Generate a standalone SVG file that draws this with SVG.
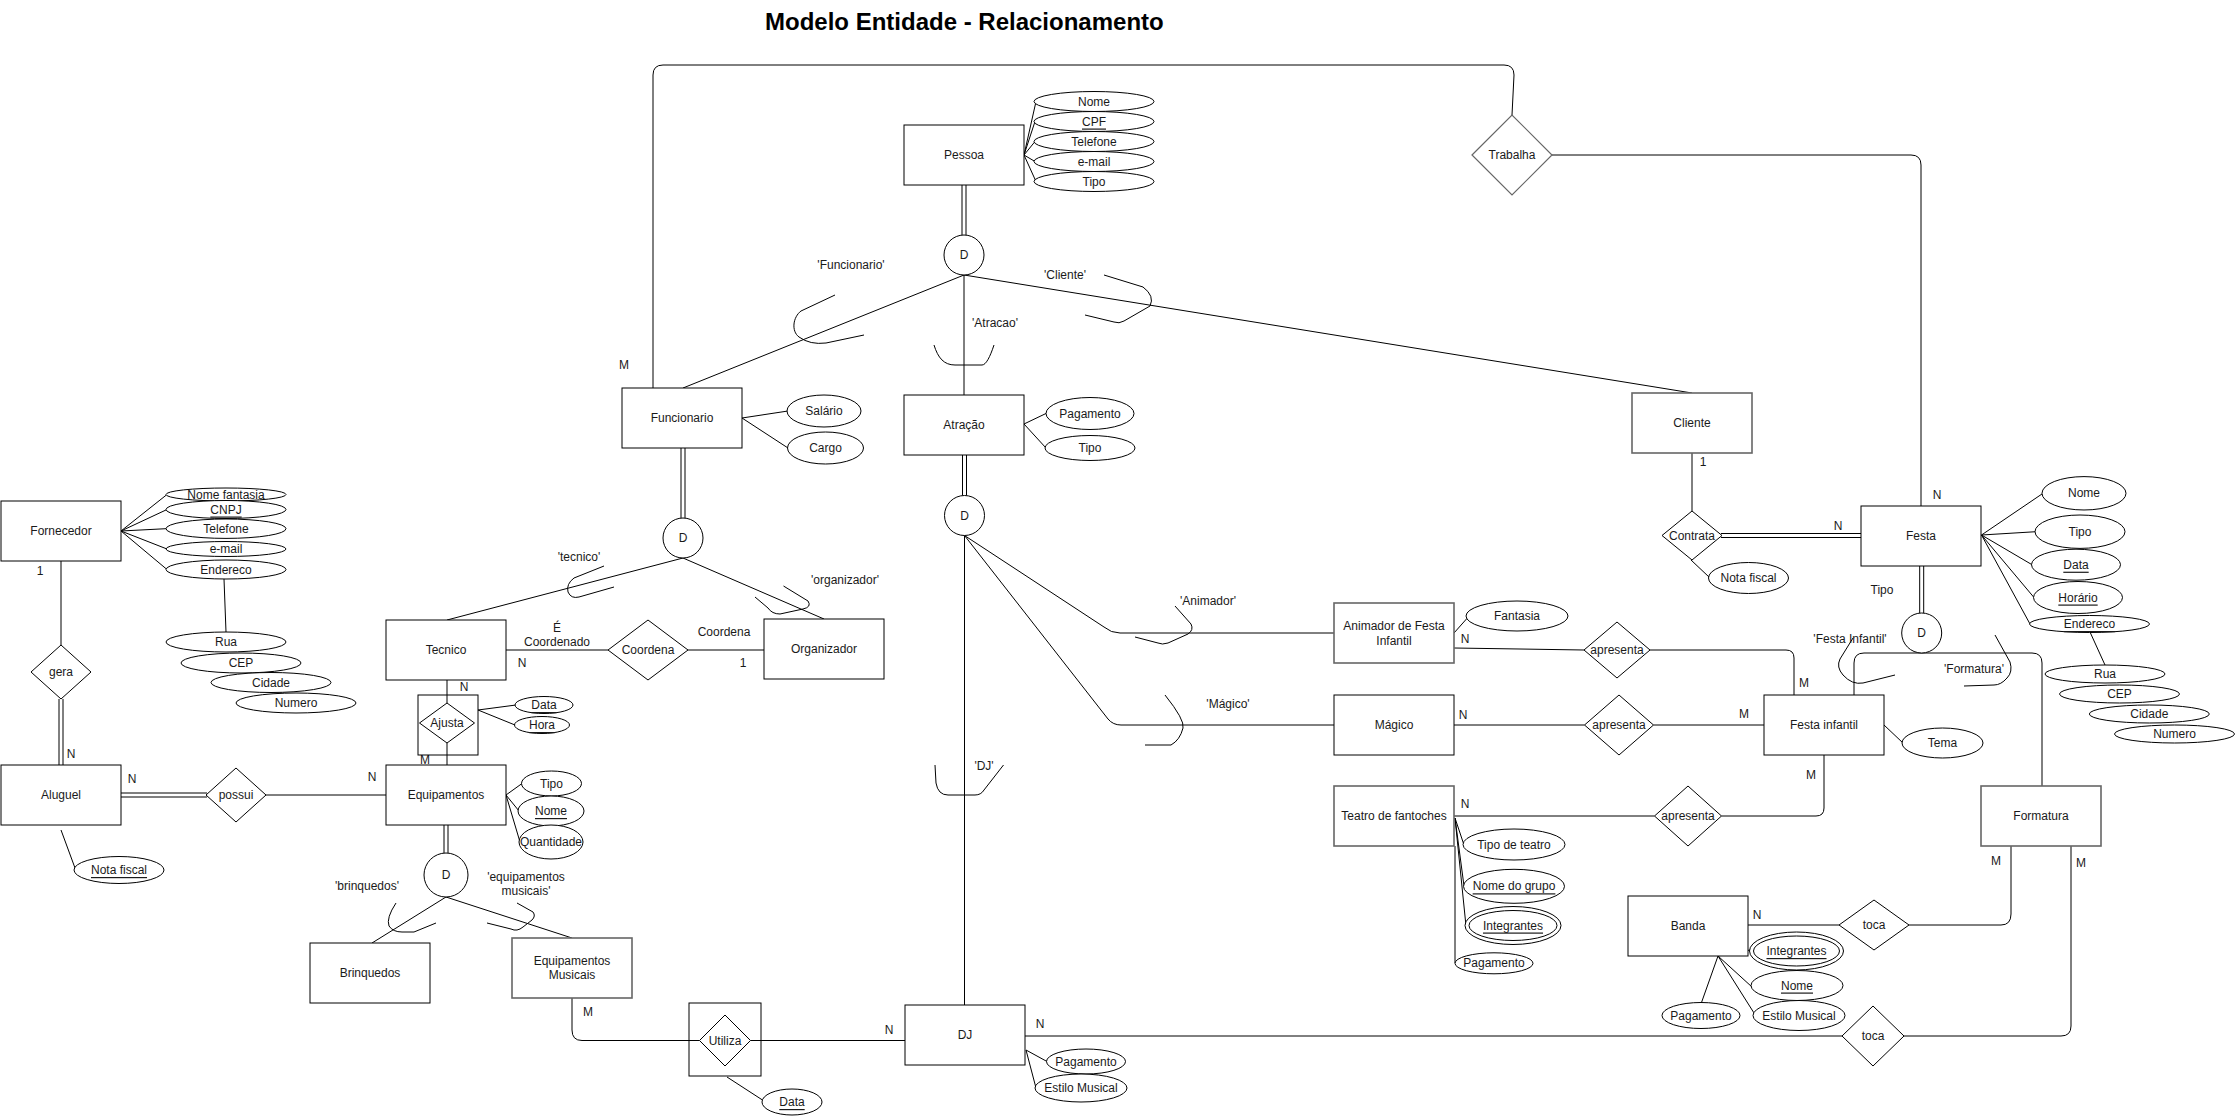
<svg xmlns="http://www.w3.org/2000/svg" width="2235" height="1116" viewBox="0 0 2235 1116">
<style>
.en{fill:#fff;stroke:#000;stroke-width:1}
.eg{fill:#fff;stroke:#666;stroke-width:1.6}
.as{fill:none;stroke:#000;stroke-width:1}
.at{fill:#fff;stroke:#000;stroke-width:1}
.rl{fill:#fff;stroke:#000;stroke-width:1}
.rg{fill:#fff;stroke:#666;stroke-width:1.2}
.cn{fill:none;stroke:#000;stroke-width:1}
.br{fill:none;stroke:#000;stroke-width:1}
.t{font-family:"Liberation Sans",Arial,Helvetica,sans-serif;font-size:12px;fill:#1a1a1a;text-anchor:middle;dominant-baseline:central}
.u{text-decoration:underline}
.title{font-family:"Liberation Sans",Arial,Helvetica,sans-serif;font-size:24px;font-weight:bold;fill:#000}
</style>
<rect width="2235" height="1116" fill="#fff"/>
<text class="title" x="765" y="30">Modelo Entidade - Relacionamento</text>

<!-- connectors -->
<g id="connectors">
  <!-- Pessoa specialisation -->
  <line class="cn" x1="962" y1="185" x2="962" y2="235"/><line class="cn" x1="966" y1="185" x2="966" y2="235"/>
  <line class="cn" x1="964" y1="275" x2="683" y2="388"/>
  <line class="cn" x1="964" y1="275" x2="964" y2="395"/>
  <line class="cn" x1="964" y1="275" x2="1692" y2="393"/>
  <path class="br" d="M835,295 L801,311 C793,317 791,331 799,337 Q810,345 826,343 L864,335"/>
  <path class="br" d="M1104,275 L1143,287 Q1155,296 1150,306 L1124,321 Q1119,324 1114,322 L1085,315"/>
  <path class="br" d="M934,345 C938,358 944,365 955,365 L982,365 C986,365 990,357 994,345"/>
  <!-- Pessoa attributes -->
  <line class="cn" x1="1024" y1="155" x2="1036" y2="101.5"/>
  <line class="cn" x1="1024" y1="155" x2="1035" y2="121.5"/>
  <line class="cn" x1="1024" y1="155" x2="1035" y2="141.5"/>
  <line class="cn" x1="1024" y1="155" x2="1035" y2="161.5"/>
  <line class="cn" x1="1024" y1="155" x2="1036" y2="181.5"/>
  <!-- Funcionario / Atracao attributes -->
  <line class="cn" x1="742" y1="418" x2="788" y2="411"/>
  <line class="cn" x1="742" y1="418" x2="788" y2="448"/>
  <line class="cn" x1="1024" y1="424" x2="1047" y2="413"/>
  <line class="cn" x1="1024" y1="424" x2="1046" y2="448"/>
  <!-- Trabalha -->
  <path class="cn" d="M653,388 V75 Q653,65 663,65 H1504 Q1514,65 1514,75 L1512,115"/>
  <path class="cn" d="M1552,155 H1911 Q1921,155 1921,165 V506"/>
  <!-- Funcionario specialisation -->
  <line class="cn" x1="681" y1="448" x2="681" y2="518"/><line class="cn" x1="685" y1="448" x2="685" y2="518"/>
  <line class="cn" x1="683" y1="558" x2="447" y2="620"/>
  <line class="cn" x1="683" y1="558" x2="824" y2="619"/>
  <path class="br" d="M604,566 L574,578 Q566,584 568,592 Q571,599 579,597 L614,587"/>
  <path class="br" d="M783.5,586 L808,601 Q812,607 803,609 L780,614 Q772,614 768,608 L755,597"/>
  <!-- Coordena -->
  <line class="cn" x1="506" y1="650" x2="608" y2="650"/>
  <line class="cn" x1="688" y1="650" x2="764" y2="650"/>
  <!-- Ajusta -->
  <line class="cn" x1="447" y1="680" x2="447" y2="703"/>
  <line class="cn" x1="447" y1="743" x2="447" y2="765"/>
  <line class="cn" x1="478" y1="710" x2="516" y2="705"/>
  <line class="cn" x1="478" y1="710" x2="515" y2="725"/>
  <!-- Equipamentos attributes -->
  <line class="cn" x1="506" y1="795" x2="522" y2="783.5"/>
  <line class="cn" x1="506" y1="795" x2="519" y2="811"/>
  <line class="cn" x1="506" y1="795" x2="520" y2="842"/>
  <!-- Fornecedor -->
  <line class="cn" x1="121" y1="531" x2="167" y2="494.5"/>
  <line class="cn" x1="121" y1="531" x2="167" y2="509.5"/>
  <line class="cn" x1="121" y1="531" x2="166" y2="528.7"/>
  <line class="cn" x1="121" y1="531" x2="167" y2="549"/>
  <line class="cn" x1="121" y1="531" x2="167" y2="569.5"/>
  <line class="cn" x1="224" y1="579" x2="226" y2="632"/>
  <line class="cn" x1="61" y1="561" x2="61" y2="645"/>
  <line class="cn" x1="59" y1="699" x2="59" y2="765"/><line class="cn" x1="63" y1="699" x2="63" y2="765"/>
  <!-- Aluguel -->
  <line class="cn" x1="121" y1="793" x2="207" y2="793"/><line class="cn" x1="121" y1="797" x2="207" y2="797"/>
  <line class="cn" x1="266" y1="795" x2="386" y2="795"/>
  <line class="cn" x1="61" y1="830" x2="75" y2="868"/>
  <!-- Equipamentos specialisation -->
  <line class="cn" x1="444" y1="825" x2="444" y2="853"/><line class="cn" x1="448" y1="825" x2="448" y2="853"/>
  <line class="cn" x1="446" y1="897" x2="372" y2="943"/>
  <line class="cn" x1="446" y1="897" x2="572" y2="938"/>
  <path class="br" d="M396,903 Q386,918 389,926 Q393,932 402,932 L414,932 L436,923"/>
  <path class="br" d="M517,903 L533,912 Q536,916 532,920 L523,927 Q517,932 511,929 L487,923"/>
  <!-- Utiliza -->
  <path class="cn" d="M572,998 V1030 Q572,1040.5 582,1040.5 H699.5"/>
  <line class="cn" x1="750.5" y1="1040.5" x2="905" y2="1040.5"/>
  <line class="cn" x1="727" y1="1077" x2="764" y2="1101"/>
  <!-- Atracao specialisation -->
  <line class="cn" x1="962.5" y1="455" x2="962.5" y2="495.5"/><line class="cn" x1="966.5" y1="455" x2="966.5" y2="495.5"/>
  <line class="cn" x1="964.5" y1="535.5" x2="964.5" y2="1005"/>
  <path class="cn" d="M964.5,535.5 L1104,627 Q1111,633 1120,633 H1334"/>
  <path class="cn" d="M964.5,535.5 L1108,719 Q1113,725 1121,725 H1334"/>
  <path class="br" d="M1175,606 L1191,624 Q1194,630 1188,634 L1168,643 Q1162,645 1158,643 L1135,637"/>
  <path class="br" d="M1165,695 Q1185,720 1183,728 Q1180,740 1171,745 L1145,745"/>
  <path class="br" d="M935,765 L936,783 Q938,795 948,795 L975,795 Q981,795 984,790 L1003.5,765"/>
  <!-- DJ -->
  <line class="cn" x1="1026" y1="1050" x2="1047" y2="1061.5"/>
  <line class="cn" x1="1026" y1="1050" x2="1036" y2="1088"/>
  <line class="cn" x1="1025" y1="1036" x2="1842" y2="1036"/>
  <!-- Animador / Magico / Teatro -->
  <line class="cn" x1="1454" y1="633" x2="1470" y2="615"/>
  <line class="cn" x1="1454" y1="648" x2="1584" y2="650"/>
  <path class="cn" d="M1650,650 H1786 Q1794,650 1794,658 V695"/>
  <line class="cn" x1="1454" y1="725" x2="1584.5" y2="725"/>
  <line class="cn" x1="1653.5" y1="725" x2="1764" y2="725"/>
  <line class="cn" x1="1884" y1="725" x2="1903" y2="743"/>
  <line class="cn" x1="1454" y1="816" x2="1654.5" y2="816"/>
  <path class="cn" d="M1721.5,816 H1816 Q1824,816 1824,808 V755"/>
  <line class="cn" x1="1455" y1="818" x2="1464" y2="845"/>
  <line class="cn" x1="1455" y1="818" x2="1464" y2="886"/>
  <line class="cn" x1="1455" y1="818" x2="1466" y2="926"/>
  <line class="cn" x1="1455" y1="846" x2="1455" y2="963"/>
  <!-- Cliente / Festa -->
  <line class="cn" x1="1692" y1="453" x2="1692" y2="511"/>
  <line class="cn" x1="1721" y1="533.5" x2="1861" y2="533.5"/><line class="cn" x1="1721" y1="537.5" x2="1861" y2="537.5"/>
  <line class="cn" x1="1691" y1="560" x2="1709" y2="577"/>
  <line class="cn" x1="1981.5" y1="535" x2="2043" y2="493.3"/>
  <line class="cn" x1="1981.5" y1="535" x2="2036" y2="531.7"/>
  <line class="cn" x1="1981.5" y1="535" x2="2032" y2="564.7"/>
  <line class="cn" x1="1981.5" y1="535" x2="2034" y2="597.5"/>
  <line class="cn" x1="1981.5" y1="535" x2="2030" y2="624"/>
  <line class="cn" x1="2090" y1="632" x2="2105" y2="665"/>
  <!-- Festa specialisation -->
  <line class="cn" x1="1919.7" y1="566" x2="1919.7" y2="613"/><line class="cn" x1="1923.7" y1="566" x2="1923.7" y2="613"/>
  <path class="cn" d="M1854,695 V663 Q1854,653 1864,653 H2032 Q2042,653 2042,663 V786"/>
  <path class="br" d="M1853,638 L1840,659 Q1836,667 1843,675 Q1852,685 1863,683 L1895,675"/>
  <path class="br" d="M1995,635 L2010,662 Q2013,672 2007,678 Q2001,685 1994,685 L1964,686"/>
  <!-- Formatura / Banda -->
  <path class="cn" d="M2011,846 V914 Q2011,925 2001,925 H1909"/>
  <path class="cn" d="M2071,846 V1026 Q2071,1036 2061,1036 H1904"/>
  <line class="cn" x1="1748" y1="925" x2="1839" y2="925"/>
  <line class="cn" x1="1718" y1="956" x2="1750" y2="950"/>
  <line class="cn" x1="1718" y1="956" x2="1752" y2="987"/>
  <line class="cn" x1="1718" y1="956" x2="1754" y2="1013"/>
  <line class="cn" x1="1718" y1="956" x2="1701.5" y2="1002.5"/>
</g>

<!-- cardinality and role labels -->
<g id="labels" class="t">
  <text class="t" x="851" y="265">'Funcionario'</text>
  <text class="t" x="1065" y="275">'Cliente'</text>
  <text class="t" x="995" y="323">'Atracao'</text>
  <text class="t" x="624" y="365">M</text>
  <text class="t" x="579" y="557">'tecnico'</text>
  <text class="t" x="845" y="580">'organizador'</text>
  <text class="t" x="557" y="628">É</text>
  <text class="t" x="557" y="642">Coordenado</text>
  <text class="t" x="522" y="663">N</text>
  <text class="t" x="724" y="632">Coordena</text>
  <text class="t" x="743" y="663">1</text>
  <text class="t" x="464" y="687">N</text>
  <text class="t" x="425" y="760">M</text>
  <text class="t" x="40" y="571">1</text>
  <text class="t" x="71" y="754">N</text>
  <text class="t" x="132" y="779">N</text>
  <text class="t" x="372" y="777">N</text>
  <text class="t" x="367" y="886">'brinquedos'</text>
  <text class="t" x="526" y="877">'equipamentos</text>
  <text class="t" x="526" y="891">musicais'</text>
  <text class="t" x="588" y="1012">M</text>
  <text class="t" x="889" y="1030">N</text>
  <text class="t" x="1040" y="1024">N</text>
  <text class="t" x="1208" y="601">'Animador'</text>
  <text class="t" x="1228" y="704">'Mágico'</text>
  <text class="t" x="984" y="766">'DJ'</text>
  <text class="t" x="1465" y="639">N</text>
  <text class="t" x="1463" y="715">N</text>
  <text class="t" x="1465" y="804">N</text>
  <text class="t" x="1804" y="683">M</text>
  <text class="t" x="1744" y="714">M</text>
  <text class="t" x="1811" y="775">M</text>
  <text class="t" x="1703" y="462">1</text>
  <text class="t" x="1838" y="526">N</text>
  <text class="t" x="1937" y="495">N</text>
  <text class="t" x="1882" y="590">Tipo</text>
  <text class="t" x="1850" y="639">'Festa Infantil'</text>
  <text class="t" x="1974" y="669">'Formatura'</text>
  <text class="t" x="1996" y="861">M</text>
  <text class="t" x="2081" y="863">M</text>
  <text class="t" x="1757" y="915">N</text>
</g>

<!-- Pessoa -->
<g id="pessoa">
  <rect class="en" x="904" y="125" width="120" height="60"/>
  <text class="t" x="964" y="155">Pessoa</text>
</g>
<g id="pessoa-attrs">
  <ellipse class="at" cx="1094" cy="101.5" rx="60" ry="10"/><text class="t" x="1094" y="101.5">Nome</text>
  <ellipse class="at" cx="1094" cy="121.5" rx="60" ry="10"/><text class="t u" x="1094" y="121.5">CPF</text>
  <ellipse class="at" cx="1094" cy="141.5" rx="60" ry="10"/><text class="t" x="1094" y="141.5">Telefone</text>
  <ellipse class="at" cx="1094" cy="161.5" rx="60" ry="10"/><text class="t" x="1094" y="161.5">e-mail</text>
  <ellipse class="at" cx="1094" cy="181.5" rx="60" ry="10"/><text class="t" x="1094" y="181.5">Tipo</text>
</g>
<g id="d-pessoa">
  <circle class="en" cx="964" cy="255" r="20"/><text class="t" x="964" y="255">D</text>
</g>

<!-- Funcionario -->
<g id="funcionario">
  <rect class="en" x="622" y="388" width="120" height="60"/>
  <text class="t" x="682" y="418">Funcionario</text>
  <ellipse class="at" cx="824" cy="411" rx="37" ry="16"/><text class="t" x="824" y="411">Salário</text>
  <ellipse class="at" cx="825.5" cy="448" rx="38" ry="16"/><text class="t" x="825.5" y="448">Cargo</text>
</g>
<g id="d-funcionario">
  <circle class="en" cx="683" cy="538" r="20"/><text class="t" x="683" y="538">D</text>
</g>

<!-- Atracao -->
<g id="atracao">
  <rect class="en" x="904" y="395" width="120" height="60"/>
  <text class="t" x="964" y="425">Atração</text>
  <ellipse class="at" cx="1090" cy="413.5" rx="44" ry="16"/><text class="t" x="1090" y="413.5">Pagamento</text>
  <ellipse class="at" cx="1090" cy="448" rx="45" ry="12.5"/><text class="t" x="1090" y="448">Tipo</text>
</g>
<g id="d-atracao">
  <circle class="en" cx="964.5" cy="515.5" r="20"/><text class="t" x="964.5" y="515.5">D</text>
</g>

<!-- Cliente -->
<g id="cliente">
  <rect class="eg" x="1632" y="393" width="120" height="60"/>
  <text class="t" x="1692" y="423">Cliente</text>
</g>

<!-- Trabalha -->
<g id="trabalha">
  <polygon class="rg" points="1472,155 1512,115 1552,155 1512,195"/>
  <text class="t" x="1512" y="155">Trabalha</text>
</g>

<!-- Tecnico / Organizador / Coordena -->
<g id="tecnico">
  <rect class="en" x="386" y="620" width="120" height="60"/>
  <text class="t" x="446" y="650">Tecnico</text>
</g>
<g id="organizador">
  <rect class="en" x="764" y="619" width="120" height="60"/>
  <text class="t" x="824" y="649">Organizador</text>
</g>
<g id="coordena">
  <polygon class="rl" points="608,650 648,620 688,650 648,680"/>
  <text class="t" x="648" y="650">Coordena</text>
</g>

<!-- Ajusta -->
<g id="ajusta">
  <rect class="as" x="418" y="695" width="60" height="60"/>
  <polygon class="rl" points="419.5,723 447,703 474.5,723 447,743"/>
  <text class="t" x="447" y="723">Ajusta</text>
  <ellipse class="at" cx="544" cy="705" rx="29" ry="8.5"/><text class="t u" x="544" y="705">Data</text>
  <ellipse class="at" cx="542" cy="725" rx="27.5" ry="8.5"/><text class="t u" x="542" y="725">Hora</text>
</g>

<!-- Equipamentos -->
<g id="equipamentos">
  <rect class="en" x="386" y="765" width="120" height="60"/>
  <text class="t" x="446" y="795">Equipamentos</text>
  <ellipse class="at" cx="551.5" cy="783.5" rx="30" ry="12.5"/><text class="t" x="551.5" y="783.5">Tipo</text>
  <ellipse class="at" cx="551" cy="811" rx="33" ry="15"/><text class="t u" x="551" y="811">Nome</text>
  <ellipse class="at" cx="551" cy="842" rx="32" ry="17"/><text class="t" x="551" y="842">Quantidade</text>
</g>
<g id="d-equipamentos">
  <circle class="en" cx="446" cy="875" r="22"/><text class="t" x="446" y="875">D</text>
</g>
<g id="brinquedos">
  <rect class="en" x="310" y="943" width="120" height="60"/>
  <text class="t" x="370" y="973">Brinquedos</text>
</g>
<g id="equipamentos-musicais">
  <rect class="eg" x="512" y="938" width="120" height="60"/>
  <text class="t" x="572" y="961">Equipamentos</text>
  <text class="t" x="572" y="975">Musicais</text>
</g>

<!-- Utiliza -->
<g id="utiliza">
  <rect class="as" x="689" y="1003" width="72" height="73"/>
  <polygon class="rl" points="699.5,1040.5 725,1015 750.5,1040.5 725,1066"/>
  <text class="t" x="725" y="1040.5">Utiliza</text>
  <ellipse class="at" cx="792" cy="1102" rx="30" ry="13"/><text class="t u" x="792" y="1102">Data</text>
</g>

<!-- DJ -->
<g id="dj">
  <rect class="en" x="905" y="1005" width="120" height="60"/>
  <text class="t" x="965" y="1035">DJ</text>
  <ellipse class="at" cx="1086" cy="1061.5" rx="39.5" ry="12.5"/><text class="t" x="1086" y="1061.5">Pagamento</text>
  <ellipse class="at" cx="1081" cy="1088" rx="46" ry="14"/><text class="t" x="1081" y="1088">Estilo Musical</text>
</g>

<!-- Fornecedor -->
<g id="fornecedor">
  <rect class="en" x="1" y="501" width="120" height="60"/>
  <text class="t" x="61" y="531">Fornecedor</text>
  <ellipse class="at" cx="226" cy="494.5" rx="60" ry="6.5"/><text class="t" x="226" y="494.5">Nome fantasia</text>
  <ellipse class="at" cx="226" cy="509.5" rx="60" ry="9"/><text class="t u" x="226" y="509.5">CNPJ</text>
  <ellipse class="at" cx="226" cy="528.7" rx="60" ry="9.7"/><text class="t" x="226" y="528.7">Telefone</text>
  <ellipse class="at" cx="226" cy="549" rx="60" ry="7.5"/><text class="t" x="226" y="549">e-mail</text>
  <ellipse class="at" cx="226" cy="569.5" rx="60" ry="9.5"/><text class="t" x="226" y="569.5">Endereco</text>
  <ellipse class="at" cx="226" cy="642" rx="60" ry="10"/><text class="t" x="226" y="642">Rua</text>
  <ellipse class="at" cx="241" cy="663" rx="60" ry="10"/><text class="t" x="241" y="663">CEP</text>
  <ellipse class="at" cx="271" cy="682.5" rx="60" ry="10"/><text class="t" x="271" y="682.5">Cidade</text>
  <ellipse class="at" cx="296" cy="703" rx="60" ry="10"/><text class="t" x="296" y="703">Numero</text>
</g>
<g id="gera">
  <polygon class="rl" points="31,672 61,645 91,672 61,699"/>
  <text class="t" x="61" y="672">gera</text>
</g>
<g id="aluguel">
  <rect class="en" x="1" y="765" width="120" height="60"/>
  <text class="t" x="61" y="795">Aluguel</text>
  <ellipse class="at" cx="119" cy="870" rx="45" ry="13.5"/><text class="t u" x="119" y="870">Nota fiscal</text>
</g>
<g id="possui">
  <polygon class="rl" points="206,795 236,768 266,795 236,822"/>
  <text class="t" x="236" y="795">possui</text>
</g>

<!-- Attractions -->
<g id="animador">
  <rect class="eg" x="1334" y="603" width="120" height="60"/>
  <text class="t" x="1394" y="626">Animador de Festa</text>
  <text class="t" x="1394" y="641">Infantil</text>
  <ellipse class="at" cx="1517" cy="616" rx="51" ry="15"/><text class="t" x="1517" y="616">Fantasia</text>
</g>
<g id="apresenta-animador">
  <polygon class="rl" points="1584,650 1617,622 1650,650 1617,678"/>
  <text class="t" x="1617" y="650">apresenta</text>
</g>
<g id="magico">
  <rect class="en" x="1334" y="695" width="120" height="60"/>
  <text class="t" x="1394" y="725">Mágico</text>
</g>
<g id="apresenta-magico">
  <polygon class="rl" points="1584.5,725 1619,695 1653.5,725 1619,755"/>
  <text class="t" x="1619" y="725">apresenta</text>
</g>
<g id="teatro">
  <rect class="eg" x="1334" y="786" width="120" height="60"/>
  <text class="t" x="1394" y="816">Teatro de fantoches</text>
  <ellipse class="at" cx="1514" cy="844.5" rx="51" ry="15.5"/><text class="t" x="1514" y="844.5">Tipo de teatro</text>
  <ellipse class="at" cx="1514" cy="886.3" rx="50.5" ry="17"/><text class="t u" x="1514" y="886.3">Nome do grupo</text>
  <ellipse class="at" cx="1513" cy="925.5" rx="48" ry="19"/><ellipse class="at" cx="1513" cy="925.5" rx="44" ry="15"/><text class="t u" x="1513" y="925.5">Integrantes</text>
  <ellipse class="at" cx="1494" cy="963.3" rx="39" ry="10.5"/><text class="t" x="1494" y="963.3">Pagamento</text>
</g>
<g id="apresenta-teatro">
  <polygon class="rl" points="1654.5,816 1688,786 1721.5,816 1688,846"/>
  <text class="t" x="1688" y="816">apresenta</text>
</g>

<!-- Festa -->
<g id="contrata">
  <polygon class="rl" points="1662,535.5 1692,511 1722,535.5 1692,560"/>
  <text class="t" x="1692" y="535.5">Contrata</text>
  <ellipse class="at" cx="1748.5" cy="578" rx="40" ry="15.5"/><text class="t" x="1748.5" y="578">Nota fiscal</text>
</g>
<g id="festa">
  <rect class="en" x="1861" y="506" width="120" height="60"/>
  <text class="t" x="1921" y="536">Festa</text>
  <ellipse class="at" cx="2084" cy="493.3" rx="42" ry="16.7"/><text class="t" x="2084" y="493.3">Nome</text>
  <ellipse class="at" cx="2080" cy="531.7" rx="45" ry="16.7"/><text class="t" x="2080" y="531.7">Tipo</text>
  <ellipse class="at" cx="2076" cy="564.7" rx="44.5" ry="15.5"/><text class="t u" x="2076" y="564.7">Data</text>
  <ellipse class="at" cx="2078" cy="597.5" rx="44.5" ry="16"/><text class="t u" x="2078" y="597.5">Horário</text>
  <ellipse class="at" cx="2089.5" cy="624" rx="60" ry="8.5"/><text class="t u" x="2089.5" y="624">Endereco</text>
  <ellipse class="at" cx="2105" cy="674" rx="60" ry="9"/><text class="t" x="2105" y="674">Rua</text>
  <ellipse class="at" cx="2119.5" cy="694" rx="60" ry="9"/><text class="t" x="2119.5" y="694">CEP</text>
  <ellipse class="at" cx="2149.3" cy="714" rx="60" ry="9"/><text class="t" x="2149.3" y="714">Cidade</text>
  <ellipse class="at" cx="2174.5" cy="734" rx="60" ry="9"/><text class="t" x="2174.5" y="734">Numero</text>
</g>
<g id="d-festa">
  <circle class="en" cx="1921.7" cy="633" r="20"/><text class="t" x="1921.7" y="633">D</text>
</g>
<g id="festa-infantil">
  <rect class="en" x="1764" y="695" width="120" height="60"/>
  <text class="t" x="1824" y="725">Festa infantil</text>
  <ellipse class="at" cx="1942.5" cy="743" rx="40.5" ry="15"/><text class="t" x="1942.5" y="743">Tema</text>
</g>
<g id="formatura">
  <rect class="eg" x="1981" y="786" width="120" height="60"/>
  <text class="t" x="2041" y="816">Formatura</text>
</g>
<g id="toca-banda">
  <polygon class="rl" points="1839,925 1874,900 1909,925 1874,950"/>
  <text class="t" x="1874" y="925">toca</text>
</g>
<g id="toca-dj">
  <polygon class="rl" points="1842,1036 1873,1006 1904,1036 1873,1066"/>
  <text class="t" x="1873" y="1036">toca</text>
</g>
<g id="banda">
  <rect class="en" x="1628" y="896" width="120" height="60"/>
  <text class="t" x="1688" y="926">Banda</text>
  <ellipse class="at" cx="1796.5" cy="951" rx="47" ry="19"/><ellipse class="at" cx="1796.5" cy="951" rx="43" ry="15"/><text class="t u" x="1796.5" y="951">Integrantes</text>
  <ellipse class="at" cx="1797" cy="985.5" rx="46" ry="15"/><text class="t u" x="1797" y="985.5">Nome</text>
  <ellipse class="at" cx="1799" cy="1015.5" rx="46" ry="15"/><text class="t" x="1799" y="1015.5">Estilo Musical</text>
  <ellipse class="at" cx="1701" cy="1015.5" rx="39" ry="13"/><text class="t" x="1701" y="1015.5">Pagamento</text>
</g>
</svg>
